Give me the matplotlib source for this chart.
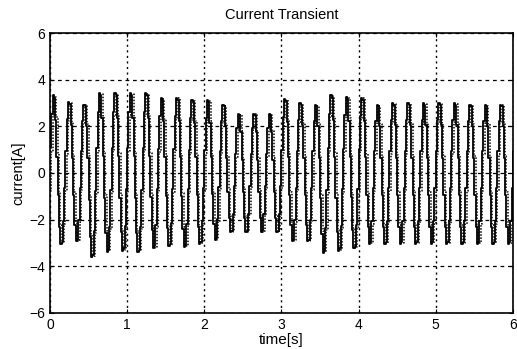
import numpy as np
import matplotlib
matplotlib.use("Agg")
import matplotlib.pyplot as plt

plt.rcParams['font.family'] = ['Liberation Sans', 'DejaVu Sans']

# Peak values per cycle (5 Hz signal, 30 cycles)
pos_peaks = [3.4, 3.1, 3.0, 3.5, 3.5, 3.5, 3.5, 3.3, 3.3, 3.2,
             3.2, 3.0, 2.6, 2.6, 2.6, 3.25, 3.05, 3.0, 3.4, 3.35,
             3.3, 3.0, 3.05, 3.05, 3.05, 3.05, 3.05, 3.0, 3.0, 3.0]
neg_peaks = [-3.1, -3.0, -3.7, -3.45, -3.4, -3.45, -3.3, -3.2, -3.25, -3.1,
             -2.95, -2.6, -2.6, -2.6, -2.6, -3.0, -3.0, -3.5, -3.4, -3.3,
             -3.1, -3.1, -3.1, -3.1, -3.1, -3.1, -3.1, -3.1, -3.1, -3.1]
freq_hz = 5.0
first_peak_s = 0.04
sample_dt = 1.0 / 60.0
t_end = 6.0

xticks = [0, 1, 2, 3, 4, 5, 6]
yticks = [-6, -4, -2, 0, 2, 4, 6]


def waveform(t, shift):
    t0 = first_peak_s - 0.25 / freq_hz + shift
    ph = (t - t0) * freq_hz
    h = np.floor(ph * 2).astype(int)
    cyc = np.clip(h // 2, 0, len(pos_peaks) - 1)
    amp = np.where(h % 2 == 0, np.take(pos_peaks, cyc), -np.take(neg_peaks, cyc))
    return amp * np.sin(2 * np.pi * ph)


t = np.arange(0, t_end + sample_dt, sample_dt)
y1 = waveform(t, 0.0)
y2 = waveform(t, 0.018)

fig = plt.figure(figsize=(5.17, 3.49), dpi=100)
ax = fig.add_axes([0.0967, 0.1032, 0.8953, 0.8022])
ax.plot(t, y1, color='black', lw=1.3, drawstyle='steps-post')
ax.plot(t, y2, color='black', lw=1.1, ls=(0, (1, 1)), drawstyle='steps-post')

ax.set_xlim(0, 6)
ax.set_ylim(-6, 6)
ax.set_xticks(xticks)
ax.set_yticks(yticks)
ax.xaxis.grid(True, color='black', ls=(0, (1.5, 2.5)), lw=1.0)
ax.yaxis.grid(True, color='black', ls=(0, (3, 3)), lw=0.9)
ax.tick_params(direction='in', top=True, right=True, labelsize=10, length=3)
for s in ax.spines.values():
    s.set_linewidth(1.2)
ax.set_title('Current Transient', fontsize=10.5, pad=10)
ax.set_xlabel('time[s]', fontsize=11, labelpad=1)
ax.set_ylabel('current[A]', fontsize=10.5, labelpad=3)

fig.savefig('out.png', dpi=100)
